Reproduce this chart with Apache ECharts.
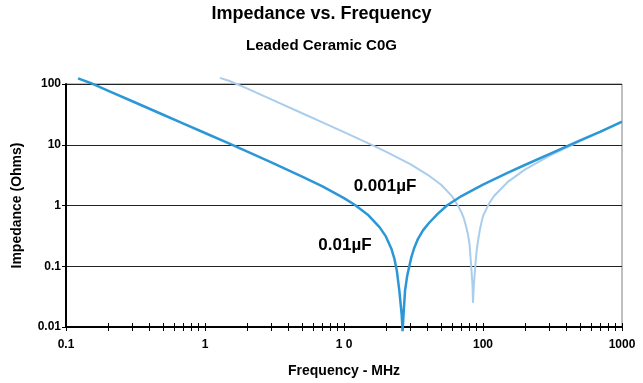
<!DOCTYPE html>
<html>
<head>
<meta charset="utf-8">
<script src="https://cdn.jsdelivr.net/npm/echarts@6/dist/echarts.min.js"></script>
<style>
html, body { margin: 0; padding: 0; background: #fff; }
#chart { width: 643px; height: 383px; }
</style>
</head>
<body>
<div id="chart"></div>
<script>
// 0.01uF curve (dark blue)
const freq10nF = [0.122, 0.15, 0.2, 0.3, 0.5, 0.7, 1, 1.5, 2, 3, 5, 7, 10, 12, 15, 18, 20, 22, 23, 24, 25, 26, 26.4, 26.8, 27.5, 28.5, 29.5, 30.5, 32, 34, 37, 41, 47, 55, 70, 100, 150, 200, 300, 500, 700, 1000];
const imp10nF = [124, 104, 78, 52, 31.2, 22.3, 15.6, 10.4, 7.75, 5.13, 3.0, 2.06, 1.32, 1.02, 0.69, 0.44, 0.31, 0.19, 0.135, 0.084, 0.04, 0.016, 0.0085, 0.016, 0.04, 0.07, 0.1, 0.14, 0.2, 0.28, 0.39, 0.52, 0.72, 1.0, 1.43, 2.2, 3.44, 4.64, 7.03, 11.8, 16.5, 24];

// 0.001uF curve (light blue)
const freq1nF = [1.28, 1.5, 2, 3, 5, 7, 10, 15, 20, 30, 40, 50, 60, 66, 70, 73, 76, 78, 80, 82, 84, 84.7, 86, 88, 90, 92, 95, 97, 100, 110, 120, 150, 200, 300, 500, 700, 1000];
const imp1nF = [126, 112, 84.5, 56, 33, 23.4, 16.1, 10.5, 7.7, 4.8, 3.2, 2.2, 1.41, 1.0, 0.77, 0.6, 0.43, 0.33, 0.23, 0.11, 0.05, 0.025, 0.05, 0.1, 0.18, 0.26, 0.4, 0.5, 0.67, 1.06, 1.43, 2.42, 3.89, 6.54, 11.5, 16.3, 23.5];

const seriesNames = ['0.01µF', '0.001µF'];

// minor tick marks on the frequency axis: 1..9 in every decade
const tickDecades = [0.1, 1, 10, 100];
const tickSteps = [1, 2, 3, 4, 5, 6, 7, 8, 9];
const freqTicks = tickDecades.flatMap(d => tickSteps.map(s => +(d * s).toPrecision(3))).concat([1000]);

const font = 'Liberation Sans';
const pair = (xs, ys) => xs.map((x, i) => [x, ys[i]]);

const chart = echarts.init(document.getElementById('chart'));

const freqAxis = {
    type: 'log',
    logBase: 10,
    min: 0.1,
    max: 1000,
    position: 'bottom',
    splitLine: { show: false },
};

const option = {
    animation: false,
    title: [{
        text: 'Impedance vs. Frequency',
        left: 'center',
        top: 5,
        padding: 0,
        textStyle: { fontFamily: font, fontSize: 18, fontWeight: 'bold', color: '#000' }
    }, {
        text: 'Leaded Ceramic C0G',
        left: 'center',
        top: 38,
        padding: 0,
        textStyle: { fontFamily: font, fontSize: 15, fontWeight: 'bold', color: '#000' }
    }],
    grid: {
        left: 66,
        right: 21,
        top: 84,
        bottom: 55,
        show: true,
        borderColor: '#808080',
        borderWidth: 1,
        backgroundColor: 'transparent'
    },
    xAxis: [Object.assign({}, freqAxis, {
        name: 'Frequency - MHz',
        nameLocation: 'middle',
        nameGap: 37,
        nameTextStyle: { fontFamily: font, fontSize: 14, fontWeight: 'bold', color: '#000' },
        axisLine: { lineStyle: { color: '#000', width: 2 } },
        axisTick: { show: true, length: 4, lineStyle: { color: '#000', width: 1 }, customValues: freqTicks },
        axisLabel: {
            margin: 12,
            fontFamily: font, fontSize: 12, fontWeight: 'bold', color: '#000',
            formatter: function (v) {
                const s = +(+v).toPrecision(3);
                return s === 10 ? '1 0' : String(s);
            }
        }
    }), Object.assign({}, freqAxis, {
        axisLine: { show: false },
        axisTick: { show: true, inside: true, length: 4, lineStyle: { color: '#000', width: 1 }, customValues: freqTicks },
        axisLabel: { show: false }
    })],
    yAxis: {
        type: 'log',
        logBase: 10,
        min: 0.01,
        max: 100,
        name: 'Impedance (Ohms)',
        nameLocation: 'middle',
        nameGap: 42,
        nameTextStyle: { fontFamily: font, fontSize: 14, fontWeight: 'bold', color: '#000' },
        axisLine: { show: true, lineStyle: { color: '#000', width: 2 } },
        axisTick: { show: true, length: 4, lineStyle: { color: '#000' } },
        axisLabel: {
            margin: 5,
            fontFamily: font, fontSize: 12, fontWeight: 'bold', color: '#000',
            formatter: function (v) { return String(+(+v).toPrecision(3)); }
        },
        splitLine: { show: true, lineStyle: { color: '#222', width: 1 } }
    },
    series: [{
        name: seriesNames[1],
        type: 'line',
        data: pair(freq1nF, imp1nF),
        showSymbol: false,
        clip: false,
        lineStyle: { color: '#abcdec', width: 2 }
    }, {
        name: seriesNames[0],
        type: 'line',
        data: pair(freq10nF, imp10nF),
        showSymbol: false,
        clip: false,
        lineStyle: { color: '#2c97d7', width: 2.5 }
    }],
    graphic: [{
        type: 'text',
        x: 385, y: 186,
        style: { text: seriesNames[1], fontFamily: font, fontSize: 17, fontWeight: 'bold', fill: '#000', align: 'center', verticalAlign: 'middle' }
    }, {
        type: 'text',
        x: 345, y: 245,
        style: { text: seriesNames[0], fontFamily: font, fontSize: 17, fontWeight: 'bold', fill: '#000', align: 'center', verticalAlign: 'middle' }
    }]
};

chart.setOption(option);
</script>
</body>
</html>
